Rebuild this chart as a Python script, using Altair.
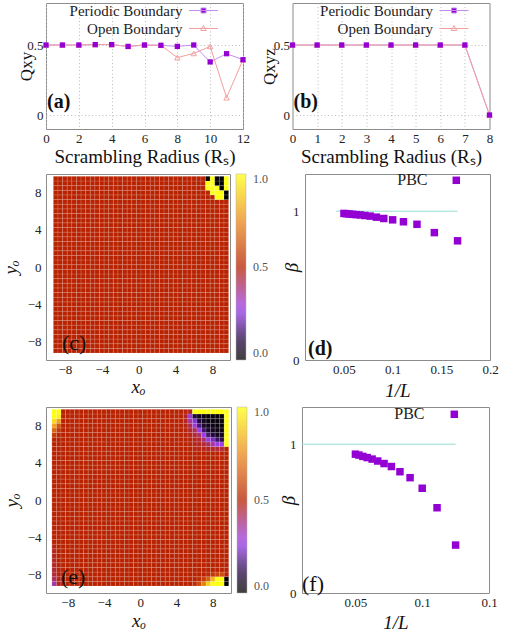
import altair as alt
import pandas as pd

SERIF = "Liberation Serif"
PURPLE = "#9400d3"
LINE_P = "#c58df0"
PINK = "#f3a0a0"
FRAME = "#8c8c8c"
TEAL = "#93dccf"

# ---------------- (a) / (b) data ----------------
series_names = ["Periodic Boundary", "Open Boundary"]
radius_a = [0, 1, 2, 3, 4, 5, 6, 7, 8, 9, 10, 11, 12]
periodic_a = [0.500, 0.500, 0.500, 0.503, 0.503, 0.490, 0.500, 0.498, 0.490, 0.500, 0.379, 0.438, 0.395]
open_a = [0.500, 0.500, 0.500, 0.503, 0.503, 0.490, 0.500, 0.498, 0.410, 0.440, 0.490, 0.124, 0.395]
radius_b = [0, 1, 2, 3, 4, 5, 6, 7, 8]
periodic_b = [0.5, 0.5, 0.5, 0.5, 0.5, 0.5, 0.5, 0.5, 0.0]
open_b = [0.5, 0.5, 0.5, 0.5, 0.5, 0.5, 0.5, 0.5, 0.0]
xticks_a = [0, 2, 4, 6, 8, 10, 12]
xticks_b = [0, 1, 2, 3, 4, 5, 6, 7, 8]
q_yticks = [0, 0.5]

# ---------------- (d) / (f) data ----------------
sizes_d = [6, 7, 8, 9, 10, 11, 12, 13, 14, 15, 16, 17, 18, 19, 20]
beta_d = [0.801, 0.856, 0.912, 0.929, 0.942, 0.951, 0.960, 0.967, 0.971, 0.975, 0.977, 0.979, 0.981, 0.983, 0.985]
sizes_f = [8, 9, 10, 11, 12, 13, 14, 15, 16, 17, 18, 19, 20]
beta_f = [0.322, 0.573, 0.704, 0.775, 0.815, 0.850, 0.870, 0.887, 0.900, 0.910, 0.918, 0.927, 0.933]
ref_x_d = [0.042, 0.1667]
ref_x_f = [0.01, 0.125]
xticks_d = [0.05, 0.1, 0.15, 0.2]
xticks_f = [0.05, 0.1, 0.15]
beta_yticks = [0, 1]

# ---------------- heatmap data ----------------
heat_ticks = [-8, -4, 0, 4, 8]
heat_base = 0.5
c_xcenters = [i / 2 for i in range(-18, 20)]
c_ycenters = [i / 2 for i in range(-18, 20)]
e_xcenters = [i / 2 for i in range(-19, 20)]
e_ycenters = [i / 2 for i in range(-18, 20)]

c_tr_cols = [7.0, 7.5, 8.0, 8.5, 9.0, 9.5]
c_tr_rows = [9.5, 9.0, 8.5, 8.0, 7.5]
c_tr_vals = [
    [0.5, 0.0, 1.0, 0.0, 0.0, 1.0],
    [0.5, 1.0, 1.0, 0.0, 0.0, 1.0],
    [0.5, 1.0, 1.0, 1.0, 0.0, 1.0],
    [0.5, 0.5, 1.0, 1.0, 1.0, 0.0],
    [0.5, 0.5, 0.5, 1.0, 1.0, 0.0],
]

e_tr_cols = [5.0, 5.5, 6.0, 6.5, 7.0, 7.5, 8.0, 8.5, 9.0, 9.5]
e_tr_rows = [9.5, 9.0, 8.5, 8.0, 7.5, 7.0, 6.5, 6.0, 5.5]
e_tr_vals = [
    [0.49, 0.47, 1.00, 1.00, 1.00, 1.00, 1.00, 1.00, 1.00, 1.00],
    [0.47, 0.30, 0.10, 0.05, 0.03, 0.02, 0.02, 0.02, 0.02, 1.00],
    [0.47, 0.36, 0.24, 0.10, 0.05, 0.03, 0.02, 0.02, 0.02, 1.00],
    [0.48, 0.43, 0.30, 0.16, 0.08, 0.05, 0.03, 0.02, 0.02, 1.00],
    [0.49, 0.46, 0.41, 0.28, 0.15, 0.08, 0.05, 0.03, 0.03, 1.00],
    [0.49, 0.48, 0.45, 0.40, 0.28, 0.16, 0.09, 0.06, 0.05, 1.00],
    [0.50, 0.49, 0.47, 0.45, 0.40, 0.29, 0.22, 0.14, 0.12, 1.00],
    [0.50, 0.49, 0.48, 0.47, 0.45, 0.42, 0.34, 0.28, 0.28, 1.00],
    [0.50, 0.50, 0.49, 0.48, 0.48, 0.47, 0.46, 0.45, 0.45, 0.50],
]
e_tl_cols = [-9.5, -9.0]
e_tl_rows = [9.5, 9.0, 8.5, 8.0, 7.5, 7.0]
e_tl_vals = [[1.0, 1.0], [1.0, 0.97], [0.92, 0.80], [0.80, 0.62], [0.66, 0.55], [0.56, 0.51]]
e_br_cols = [6.0, 6.5, 7.0, 7.5, 8.0, 8.5, 9.0, 9.5]
e_br_rows = [-8.0, -8.5, -9.0]
e_br_vals = [
    [0.50, 0.50, 0.50, 0.52, 0.55, 0.58, 0.60, 0.50],
    [0.50, 0.52, 0.56, 0.65, 0.85, 1.00, 1.00, 0.00],
    [0.53, 0.60, 0.72, 0.90, 1.00, 1.00, 1.00, 0.00],
]
e_bl_cols = [-9.5, -9.0]
e_bl_rows = [-5.0, -5.5, -6.0, -6.5, -7.0, -7.5, -8.0, -8.5, -9.0]
e_bl_vals = [[0.48, 0.5], [0.47, 0.5], [0.47, 0.5], [0.46, 0.5], [0.46, 0.49],
             [0.45, 0.49], [0.44, 0.49], [0.41, 0.48], [0.34, 0.47]]

heat_stops = [0.0, 0.12, 0.27, 0.5, 0.75, 1.0]
heat_colors = ["#000000", "#2a0a48", "#9a3cf4", "#b82200", "#ec8a1a", "#ffff10"]
colorbar_values = [0, 0.5, 1]


def build_cells(xc, yc, blocks):
    over = {}
    for cols, rows, mat in blocks:
        for r, row in zip(rows, mat):
            for c, v in zip(cols, row):
                over[(round(c * 2), round(r * 2))] = v
    recs = []
    for c in xc:
        for r in yc:
            recs.append({"cx": c, "cy": r, "v": over.get((round(c * 2), round(r * 2)), heat_base)})
    return pd.DataFrame(recs)


def panel_label(text, x, y, bold, size):
    return alt.Chart(pd.DataFrame({"t": [text]})).mark_text(
        font=SERIF, fontSize=size, fontWeight="bold" if bold else "normal",
        align="left", baseline="alphabetic", color="#111"
    ).encode(x=alt.value(x), y=alt.value(y), text="t:N")


SQ_PATH = "M-2.9,0H2.9M-0.5,-0.5H0.5V0.5H-0.5Z"
TRI_PATH = "M-2.9,0H2.9M0,-0.6L0.55,0.4H-0.55Z"


def q_panel(radius, per, opn, xticks, xmax, ytitle, label, width, ytitle_pad, legx):
    df = pd.DataFrame({
        "r": radius + radius,
        "q": per + opn,
        "series": [series_names[0]] * len(radius) + [series_names[1]] * len(radius),
    })
    x = alt.X("r:Q", scale=alt.Scale(domain=[0, xmax], nice=False, zero=False),
              axis=alt.Axis(values=xticks, title="Scrambling Radius (Rₛ)", grid=True,
                            gridDash=[1, 2.5], gridColor="#bdbdbd", labelPadding=3,
                            titleY=33, titleBaseline="alphabetic", format="~g"))
    y = alt.Y("q:Q", scale=alt.Scale(domain=[-0.1, 0.8], nice=False, zero=False),
              axis=alt.Axis(values=q_yticks, title=ytitle, grid=True, gridDash=[1, 2.5],
                            gridColor="#bdbdbd", labelPadding=3, titlePadding=ytitle_pad,
                            titleFontSize=17, format="~g"))
    base = alt.Chart(df).encode(x=x, y=y)
    is_p = alt.datum.series == series_names[0]
    is_o = alt.datum.series == series_names[1]
    line_p = base.transform_filter(is_p).mark_line(color=LINE_P, strokeWidth=1)
    line_o = base.transform_filter(is_o).mark_line(color=PINK, strokeWidth=1)
    pts_o = base.transform_filter(is_o).mark_point(shape="triangle-up", filled=False,
                                                   color=PINK, size=30, strokeWidth=1, opacity=1)
    pts_p = base.transform_filter(is_p).mark_point(shape="square", filled=True,
                                                   color=PURPLE, size=28, opacity=1)
    leg = alt.Legend(orient="none", legendX=legx, legendY=0, title=None,
                     labelAlign="right", labelOffset={"expr": "-28.5"}, symbolSize=100,
                     symbolStrokeWidth=1, rowPadding=2, padding=0,
                     labelFont=SERIF, labelFontSize=15, labelColor="#222",
                     symbolOpacity=1, labelBaseline="middle")
    # legend-only layer: no rows survive the filter, the legend comes from the fixed scale domains
    legend_layer = base.transform_filter(alt.datum.r < -100).mark_point().encode(
        shape=alt.Shape("series:N", scale=alt.Scale(domain=series_names, range=[SQ_PATH, TRI_PATH]), legend=leg),
        fill=alt.Fill("series:N", scale=alt.Scale(domain=series_names, range=[PURPLE, "transparent"]), legend=leg),
        stroke=alt.Stroke("series:N", scale=alt.Scale(domain=series_names, range=[LINE_P, PINK]), legend=leg),
    )
    lab = panel_label(label, 1, 105, True, 20)
    return alt.layer(line_p, line_o, pts_o, pts_p, legend_layer, lab).properties(width=width, height=126)


def heat_panel(df, xdom, label, lx, ly, width, xtitle_y, ytitle_pad):
    rect = alt.Chart(df).transform_calculate(
        x0="datum.cx - 0.25", x1="datum.cx + 0.25", y0="datum.cy - 0.25", y1="datum.cy + 0.25"
    ).mark_rect(stroke="#ffffff", strokeOpacity=0.22, strokeWidth=0.6, clip=True).encode(
        x=alt.X("x0:Q", scale=alt.Scale(domain=xdom, nice=False, zero=False),
                axis=alt.Axis(values=heat_ticks, title="xₒ", titleFontStyle="italic",
                              labelPadding=3, titleY=xtitle_y, titleBaseline="alphabetic", format="~g")),
        x2="x1:Q",
        y=alt.Y("y0:Q", scale=alt.Scale(domain=[-10, 10], nice=False, zero=False),
                axis=alt.Axis(values=heat_ticks, title="yₒ", titleFontStyle="italic",
                              labelPadding=5, titlePadding=ytitle_pad, format="~g")),
        y2="y1:Q",
        color=alt.Color("v:Q", scale=alt.Scale(domain=heat_stops, range=heat_colors, interpolate="rgb"),
                        legend=alt.Legend(orient="right", offset=6, title=None, direction="vertical",
                                          gradientLength=186, gradientThickness=10,
                                          gradientStrokeColor="#999999", gradientStrokeWidth=0.5,
                                          gradientOpacity=0.75,
                                          values=colorbar_values, format=".1f", labelOffset=7,
                                          labelFont=SERIF, labelFontSize=12, labelColor="#555555",
                                          labelOverlap=False, padding=0)),
    )
    lab = panel_label(label, lx, ly, False, 22)
    return alt.layer(rect, lab).properties(width=width, height=186)


def beta_panel(sizes, beta, refx, xdom, xticks, width, label, bold, lx, ly, legx, legy, laboff, xtitle_y):
    df = pd.DataFrame({"invL": [1.0 / L for L in sizes], "beta": beta, "series": ["PBC"] * len(sizes)})
    ref = pd.DataFrame({"invL": refx, "beta": [1.0, 1.0]})
    x = alt.X("invL:Q", scale=alt.Scale(domain=xdom, nice=False, zero=False),
              axis=alt.Axis(values=xticks, title="1/L", titleFontStyle="italic",
                            labelPadding=3, titleY=xtitle_y, titleBaseline="alphabetic", format="~g"))
    y = alt.Y("beta:Q", scale=alt.Scale(domain=[0, 1.25], nice=False, zero=False),
              axis=alt.Axis(values=beta_yticks, title="β", titleFontStyle="italic",
                            labelPadding=6, titlePadding=-8.5, format="~g"))
    refline = alt.Chart(ref).mark_line(color=TEAL, strokeWidth=1).encode(x=x, y=y)
    pts = alt.Chart(df).mark_point(shape="square", filled=True, size=56, opacity=1).encode(
        x=x, y=y,
        color=alt.Color("series:N", scale=alt.Scale(domain=["PBC"], range=[PURPLE]),
                        legend=alt.Legend(orient="none", legendX=legx, legendY=legy, title=None,
                                          labelAlign="right", labelOffset={"expr": str(laboff)}, padding=0,
                                          labelFont=SERIF, labelFontSize=16, labelColor="#222",
                                          symbolSize=56, labelBaseline="middle")),
    )
    lab = panel_label(label, lx, ly, bold, 20 if bold else 22)
    return alt.layer(refline, pts, lab).properties(width=width, height=186)


chart_a = q_panel(radius_a, periodic_a, open_a, xticks_a, 12, "Qxy", "(a)", 197, -9, 150)
chart_b = q_panel(radius_b, periodic_b, open_b, xticks_b, 8, "Qxyz", "(b)", 197, -5, 154)

cells_c = build_cells(c_xcenters, c_ycenters, [(c_tr_cols, c_tr_rows, c_tr_vals)])
cells_e = build_cells(e_xcenters, e_ycenters, [
    (e_tr_cols, e_tr_rows, e_tr_vals), (e_tl_cols, e_tl_rows, e_tl_vals),
    (e_br_cols, e_br_rows, e_br_vals), (e_bl_cols, e_bl_rows, e_bl_vals)])

chart_c = heat_panel(cells_c, [-10.05, 9.9], "(c)", 16, 176, 184, 32, 7)
chart_e = heat_panel(cells_e, [-10.4, 10.0], "(e)", 15, 177, 185, 33, 5.5)
chart_d = beta_panel(sizes_d, beta_d, ref_x_d, [0.01, 0.2], xticks_d, 185, "(d)", True, 3, 181,
                     143.3, -1.7, -36.8, 36)
chart_f = beta_panel(sizes_f, beta_f, ref_x_f, [0.01, 0.15], xticks_f, 187, "(f)", False, 0, 184,
                     144.3, -0.7, -37.8, 35)

RES = dict(color="independent", shape="independent", fill="independent", stroke="independent")

row1 = alt.hconcat(chart_a, chart_b, spacing=9.5).resolve_scale(**RES).resolve_legend(**RES)
row2 = alt.hconcat(chart_c, chart_d, spacing=12).resolve_scale(**RES).resolve_legend(**RES)
row3 = alt.hconcat(chart_e, chart_f, spacing=8).resolve_scale(**RES).resolve_legend(**RES)

chart = alt.vconcat(row1, row2, row3, spacing=4).resolve_scale(**RES).resolve_legend(**RES).properties(
    padding={"left": 0, "top": 2, "right": 0, "bottom": 0}, background="white"
).configure_view(stroke=FRAME, strokeWidth=1).configure_axis(
    domain=False, ticks=False, grid=False, labelFont=SERIF, titleFont=SERIF,
    labelFontSize=13, titleFontSize=19, labelColor="#222", titleColor="#111",
    titleFontWeight="normal", labelFlush=False, labelOverlap=False
)

chart.save("out.html", embed_options={"renderer": "svg", "actions": False})
